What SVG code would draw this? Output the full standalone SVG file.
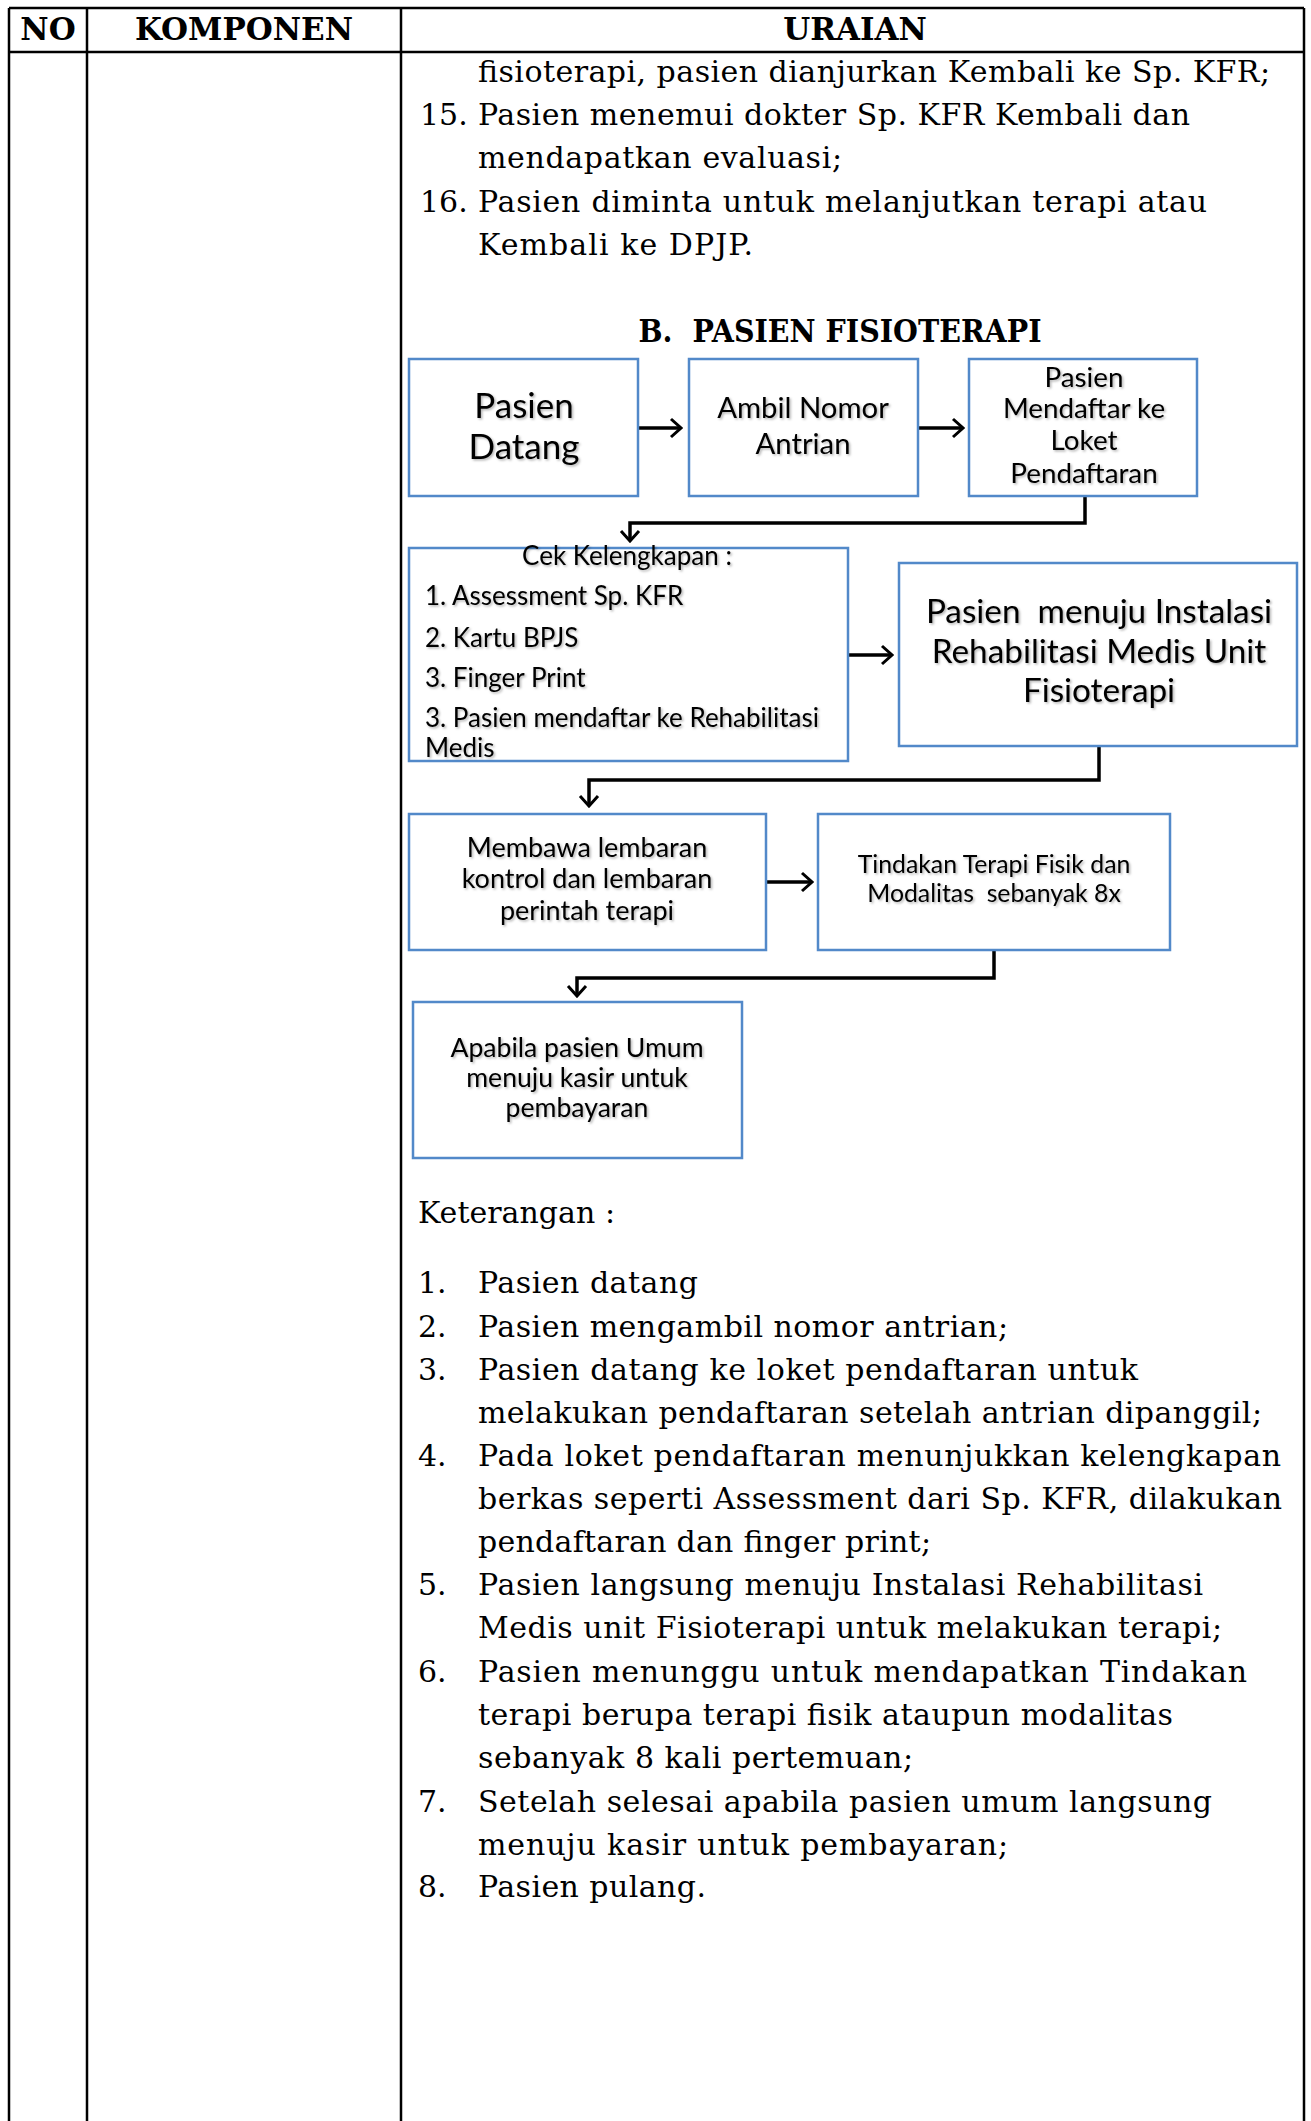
<svg xmlns="http://www.w3.org/2000/svg" width="1311" height="2121" viewBox="0 0 1311 2121">
<defs>
<style>
.hdr{font-family:"DejaVu Serif","Liberation Serif",serif;font-weight:bold;font-size:31px;fill:#000;text-anchor:middle}
.body{font-family:"DejaVu Serif","Liberation Serif",serif;font-size:30px;fill:#000}
.box{fill:#fff;stroke:#5289C9;stroke-width:2.5}
.bt{font-family:Lato,"Noto Sans",sans-serif;fill:#000;text-anchor:middle}
.bl{font-family:Lato,"Noto Sans",sans-serif;fill:#000}
.grid{stroke:#000;stroke-width:2.5;fill:none}
.conn{stroke:#000;stroke-width:3.5;fill:none}
</style>
<marker id="arr" viewBox="0 0 14 22" refX="12" refY="11" markerWidth="14" markerHeight="22" markerUnits="userSpaceOnUse" orient="auto"><path d="M2,2 L12,11 L2,20" fill="none" stroke="#000" stroke-width="3"/></marker>
<filter id="sh" x="-5%" y="-20%" width="110%" height="140%"><feDropShadow dx="1.5" dy="1.5" stdDeviation="1" flood-color="#000" flood-opacity="0.3"/></filter>
</defs>
<rect width="1311" height="2121" fill="#fff"/>
<g id="table">
<path class="grid" d="M9,8 H1304 M9,52 H1304 M9,8 V2121 M87,8 V2121 M401,8 V2121 M1304,8 V2121"/>
<text class="hdr" x="48" y="40">NO</text>
<text class="hdr" x="244" y="40">KOMPONEN</text>
<text class="hdr" x="855" y="40">URAIAN</text>
</g>
<g id="top-text" class="body">
<text x="478" y="82" textLength="792" lengthAdjust="spacing">fisioterapi, pasien dianjurkan Kembali ke Sp. KFR;</text>
<text x="420" y="125">15.</text>
<text x="478" y="125" textLength="712" lengthAdjust="spacing">Pasien menemui dokter Sp. KFR Kembali dan</text>
<text x="478" y="168" textLength="364" lengthAdjust="spacing">mendapatkan evaluasi;</text>
<text x="420" y="212">16.</text>
<text x="478" y="212" textLength="729" lengthAdjust="spacing">Pasien diminta untuk melanjutkan terapi atau</text>
<text x="478" y="255" textLength="275" lengthAdjust="spacing">Kembali ke DPJP.</text>
</g>
<text id="title" class="hdr" x="840" y="342" textLength="403" lengthAdjust="spacingAndGlyphs" xml:space="preserve">B.  PASIEN FISIOTERAPI</text>
<g id="connectors">
<path class="conn" marker-end="url(#arr)" d="M638,428 H681"/>
<path class="conn" marker-end="url(#arr)" d="M918,428 H963"/>
<path class="conn" marker-end="url(#arr)" d="M1085,496 V523 H630 V541"/>
<path class="conn" marker-end="url(#arr)" d="M848,655 H892"/>
<path class="conn" marker-end="url(#arr)" d="M1099,746 V780 H589 V806"/>
<path class="conn" marker-end="url(#arr)" d="M766,882 H812"/>
<path class="conn" marker-end="url(#arr)" d="M994,950 V978 H577 V996"/>
</g>
<g id="n1"><rect class="box" x="409" y="359" width="229" height="137"/>
<g class="bt" font-size="35" filter="url(#sh)"><text x="524" y="418">Pasien</text><text x="524" y="459">Datang</text></g></g>
<g id="n2"><rect class="box" x="689" y="359" width="229" height="137"/>
<g class="bt" font-size="29.3" filter="url(#sh)"><text x="803" y="418">Ambil Nomor</text><text x="803" y="454">Antrian</text></g></g>
<g id="n3"><rect class="box" x="969" y="359" width="228" height="137"/>
<g class="bt" font-size="27.8" filter="url(#sh)"><text x="1084" y="387">Pasien</text><text x="1084" y="418">Mendaftar ke</text><text x="1084" y="450">Loket</text><text x="1084" y="483">Pendaftaran</text></g></g>
<g id="n4"><rect class="box" x="409" y="548" width="439" height="213"/>
<g filter="url(#sh)" font-size="26"><text class="bt" x="627" y="565">Cek Kelengkapan :</text>
<g class="bl"><text x="425" y="605">1. Assessment Sp. KFR</text><text x="425" y="647">2. Kartu BPJS</text><text x="425" y="687">3. Finger Print</text><text x="425" y="727">3. Pasien mendaftar ke Rehabilitasi</text><text x="425" y="757">Medis</text></g></g></g>
<g id="n5"><rect class="box" x="899" y="563" width="398" height="183"/>
<g class="bt" font-size="33.3" filter="url(#sh)"><text x="1099" y="623" xml:space="preserve">Pasien  menuju Instalasi</text><text x="1099" y="663">Rehabilitasi Medis Unit</text><text x="1099" y="702">Fisioterapi</text></g></g>
<g id="n6"><rect class="box" x="409" y="814" width="357" height="136"/>
<g class="bt" font-size="27" filter="url(#sh)"><text x="587" y="857">Membawa lembaran</text><text x="587" y="888">kontrol dan lembaran</text><text x="587" y="920">perintah terapi</text></g></g>
<g id="n7"><rect class="box" x="818" y="814" width="352" height="136"/>
<g class="bt" font-size="24.8" filter="url(#sh)"><text x="994" y="873">Tindakan Terapi Fisik dan</text><text x="994" y="902" xml:space="preserve">Modalitas  sebanyak 8x</text></g></g>
<g id="n8"><rect class="box" x="413" y="1002" width="329" height="156"/>
<g class="bt" font-size="26.6" filter="url(#sh)"><text x="577" y="1057">Apabila pasien Umum</text><text x="577" y="1087">menuju kasir untuk</text><text x="577" y="1117">pembayaran</text></g></g>
<g id="keterangan" class="body">
<text x="418" y="1223" textLength="197" lengthAdjust="spacing">Keterangan :</text>
<text x="418" y="1293">1.</text><text x="478" y="1293" textLength="220" lengthAdjust="spacing">Pasien datang</text>
<text x="418" y="1337">2.</text><text x="478" y="1337" textLength="530" lengthAdjust="spacing">Pasien mengambil nomor antrian;</text>
<text x="418" y="1380">3.</text><text x="478" y="1380" textLength="660" lengthAdjust="spacing">Pasien datang ke loket pendaftaran untuk</text>
<text x="478" y="1423" textLength="784" lengthAdjust="spacing">melakukan pendaftaran setelah antrian dipanggil;</text>
<text x="418" y="1466">4.</text><text x="478" y="1466" textLength="803" lengthAdjust="spacing">Pada loket pendaftaran menunjukkan kelengkapan</text>
<text x="478" y="1509" textLength="804" lengthAdjust="spacing">berkas seperti Assessment dari Sp. KFR, dilakukan</text>
<text x="478" y="1552" textLength="453" lengthAdjust="spacing">pendaftaran dan finger print;</text>
<text x="418" y="1595">5.</text><text x="478" y="1595" textLength="725" lengthAdjust="spacing">Pasien langsung menuju Instalasi Rehabilitasi</text>
<text x="478" y="1638" textLength="744" lengthAdjust="spacing">Medis unit Fisioterapi untuk melakukan terapi;</text>
<text x="418" y="1682">6.</text><text x="478" y="1682" textLength="769" lengthAdjust="spacing">Pasien menunggu untuk mendapatkan Tindakan</text>
<text x="478" y="1725" textLength="695" lengthAdjust="spacing">terapi berupa terapi fisik ataupun modalitas</text>
<text x="478" y="1768" textLength="435" lengthAdjust="spacing">sebanyak 8 kali pertemuan;</text>
<text x="418" y="1812">7.</text><text x="478" y="1812" textLength="734" lengthAdjust="spacing">Setelah selesai apabila pasien umum langsung</text>
<text x="478" y="1855" textLength="530" lengthAdjust="spacing">menuju kasir untuk pembayaran;</text>
<text x="418" y="1897">8.</text><text x="478" y="1897" textLength="228" lengthAdjust="spacing">Pasien pulang.</text>
</g>
</svg>
